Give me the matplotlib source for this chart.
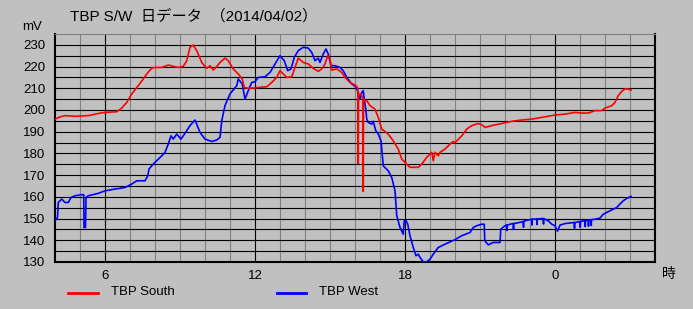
import matplotlib
matplotlib.use("Agg")
import matplotlib.pyplot as plt
from matplotlib.lines import Line2D
import numpy as np

plt.rcParams['font.family'] = ['Liberation Sans', 'Noto Sans CJK JP', 'DejaVu Sans']

# hour of day (24+ = next day) and mV readings
south_h = [4.0, 4.2, 4.4, 4.8, 5.33, 5.73, 6.0, 6.47, 6.67, 6.87, 7.07, 7.33, 7.53, 7.67, 7.87,
           8.0, 8.27, 8.53, 8.73, 8.93, 9.13, 9.27, 9.4, 9.53, 9.67, 9.87, 10.07, 10.2, 10.33,
           10.47, 10.6, 10.8, 10.93, 11.13, 11.33, 11.49, 11.57, 11.73, 12.0, 12.13, 12.47,
           12.67, 12.87, 13.0, 13.13, 13.27, 13.47, 13.6, 13.73, 13.93, 14.13, 14.33, 14.53,
           14.67, 14.8, 14.91, 15.0, 15.07, 15.27, 15.47, 15.6, 15.8, 16.0, 16.1, 16.12, 16.13,
           16.14, 16.16, 16.24, 16.29, 16.32, 16.33, 16.34, 16.37, 16.47, 16.6, 16.8, 16.93,
           17.07, 17.33, 17.53, 17.73, 17.87, 18.0, 18.2, 18.53, 18.67, 18.87, 19.07, 19.13,
           19.2, 19.33, 19.4, 19.6, 19.8, 19.93, 20.0, 20.27, 20.47, 20.67, 20.93, 21.07, 21.2,
           21.47, 21.87, 22.27, 22.67, 23.07, 23.47, 24.0, 24.4, 24.8, 25.07, 25.33, 25.6,
           25.87, 26.0, 26.27, 26.4, 26.53, 26.67, 26.8, 26.91, 27.04]
south_mv = [195.8, 196.8, 197.4, 197.1, 197.4, 198.4, 198.9, 199.2, 200.9, 203.5, 207.4, 211.2,
            214.3, 216.6, 219.3, 219.6, 219.6, 220.7, 220.1, 219.6, 220.1, 222.7, 228.9, 229.9,
            227.3, 221.9, 219.2, 220.4, 218.4, 220.0, 221.9, 223.9, 222.7, 218.9, 216.6, 214.3,
            210.4, 210.0, 210.2, 210.4, 210.7, 212.7, 215.0, 218.1, 216.6, 215.0, 215.3, 219.6,
            223.9, 221.9, 221.2, 219.2, 217.8, 218.9, 221.2, 225.0, 223.5, 218.4, 218.9, 217.3,
            215.0, 212.7, 211.5, 210.4, 208.0, 175.3, 207.5, 206.6, 207.4, 206.0, 205.0, 162.5,
            205.0, 204.3, 204.3, 202.0, 200.4, 196.6, 191.2, 188.9, 185.8, 182.0, 177.4, 175.9,
            173.6, 173.6, 175.1, 178.2, 180.5, 176.6, 180.5, 178.9, 180.5, 182.0, 184.3, 185.5,
            185.0, 188.1, 191.2, 192.8, 193.8, 193.2, 192.0, 192.8, 193.8, 194.8, 195.4, 195.8,
            196.6, 197.7, 198.1, 198.9, 198.6, 198.6, 199.7, 199.7, 200.9, 202.0, 203.5, 206.6,
            208.6, 209.7, 209.7, 209.2]

west_h = [4.0, 4.1, 4.13, 4.27, 4.4, 4.53, 4.64, 4.8, 5.07, 5.15, 5.16, 5.22, 5.24, 5.33, 5.73,
          6.0, 6.4, 6.8, 7.07, 7.27, 7.6, 7.71, 7.76, 7.87, 8.0, 8.27, 8.4, 8.53, 8.64, 8.73,
          8.87, 9.04, 9.27, 9.4, 9.6, 9.8, 10.0, 10.27, 10.47, 10.6, 10.67, 10.8, 11.0, 11.27,
          11.33, 11.49, 11.6, 11.73, 11.87, 12.0, 12.13, 12.4, 12.6, 12.8, 13.0, 13.17, 13.31,
          13.44, 13.57, 13.73, 13.93, 14.13, 14.27, 14.4, 14.53, 14.6, 14.73, 14.84, 14.93,
          15.04, 15.2, 15.4, 15.53, 15.67, 15.87, 16.0, 16.07, 16.13, 16.2, 16.27, 16.33, 16.37,
          16.43, 16.47, 16.53, 16.67, 16.73, 16.83, 16.93, 17.04, 17.13, 17.33, 17.47, 17.6,
          17.67, 17.8, 17.93, 17.97, 18.04, 18.11, 18.2, 18.33, 18.44, 18.53, 18.6, 18.73,
          18.87, 19.0, 19.13, 19.33, 19.6, 20.0, 20.27, 20.6, 20.73, 20.87, 21.07, 21.17, 21.19,
          21.33, 21.53, 21.8, 21.83, 22.0, 22.07, 22.08, 22.09, 22.27, 22.33, 22.34, 22.35,
          22.53, 22.73, 22.74, 22.75, 22.8, 23.07, 23.08, 23.09, 23.27, 23.28, 23.29, 23.47,
          23.53, 23.54, 23.55, 23.73, 23.87, 24.0, 24.1, 24.2, 24.4, 24.77, 24.78, 24.79, 24.8,
          25.0, 25.01, 25.02, 25.2, 25.21, 25.22, 25.33, 25.34, 25.35, 25.44, 25.45, 25.46, 25.6,
          25.8, 25.93, 26.2, 26.47, 26.6, 26.73, 26.87, 27.04]
west_mv = [149.0, 150.5, 157.4, 159.0, 157.4, 157.4, 159.7, 160.5, 161.0, 161.0, 145.9, 145.9,
           159.7, 160.5, 161.6, 162.8, 163.6, 164.3, 165.9, 167.4, 167.4, 169.7, 172.8, 174.3,
           175.9, 178.9, 180.5, 184.3, 188.1, 186.6, 188.9, 186.6, 190.5, 192.8, 195.4, 189.7,
           186.6, 185.5, 186.2, 187.4, 195.1, 202.0, 207.4, 211.2, 214.3, 212.0, 205.0, 208.9,
           212.7, 213.0, 215.0, 215.3, 217.3, 221.2, 225.0, 222.7, 218.1, 218.9, 224.2, 227.3,
           228.9, 228.5, 226.5, 222.7, 223.9, 221.9, 225.8, 228.1, 225.8, 220.4, 220.4, 219.6,
           218.1, 215.0, 212.0, 211.0, 209.7, 208.1, 205.0, 208.1, 208.9, 205.0, 200.4, 195.8,
           194.3, 193.5, 194.8, 190.5, 188.9, 185.8, 174.3, 172.0, 168.9, 162.8, 151.3, 145.9,
           142.8, 149.0, 149.0, 147.4, 142.1, 136.7, 132.9, 133.6, 132.1, 130.1, 130.1, 131.3,
           133.6, 136.7, 138.2, 140.3, 142.1, 143.6, 145.9, 146.7, 147.4, 147.4, 139.8, 137.9,
           139.0, 139.0, 145.1, 146.7, 147.0, 144.5, 147.0, 147.6, 147.7, 145.0, 147.7, 148.1,
           148.6, 146.0, 148.7, 149.0, 149.7, 147.0, 149.7, 149.8, 147.3, 149.8, 150.0, 150.0,
           147.5, 150.0, 149.0, 147.4, 146.7, 144.2, 147.0, 147.7, 148.2, 145.5, 148.2, 148.2,
           148.7, 146.0, 148.7, 149.0, 146.3, 149.0, 149.3, 146.5, 149.3, 149.5, 146.8, 149.5,
           149.7, 150.2, 152.0, 153.6, 155.1, 156.7, 158.2, 159.3, 160.2]

x_ticks = [6, 12, 18, 24]
x_labels = ['6', '12', '18', '0']
y_ticks = list(range(130, 231, 10))

bg = '#c0c0c0'
fig = plt.figure(figsize=(6.93, 3.09), dpi=100, facecolor=bg)
ax = fig.add_axes([55 / 693, 47 / 309, 600 / 693, 228 / 309], facecolor=bg)

ax.plot(west_h, west_mv, color='#0000ff', lw=1.2, zorder=3)
ax.plot(south_h, south_mv, color='#ff0000', lw=1.2, zorder=4)

ax.set_xlim(4, 28)
ax.set_ylim(130, 235)
ax.set_xticks(x_ticks)
ax.set_xticklabels(x_labels)
ax.set_xticks(np.arange(5, 28), minor=True)
ax.set_yticks(y_ticks)
ax.set_yticks(np.arange(135, 235, 10), minor=True)

ax.grid(True, which='major', axis='x', color='black', lw=0.8)
ax.grid(True, which='minor', axis='x', color='#808080', lw=0.8)
ax.grid(True, which='both', axis='y', color='black', lw=0.8)
ax.set_axisbelow(True)

ax.tick_params(which='both', length=0, labelsize=9.5)
ax.tick_params(axis='y', pad=7)
ax.tick_params(axis='x', pad=6)

for side in ['left', 'bottom', 'right']:
    ax.spines[side].set_color('black')
    ax.spines[side].set_linewidth(1.5)
ax.spines['top'].set_color('#808080')
ax.spines['top'].set_linewidth(0.8)

W, H = 693, 309
fig.text(70 / W, 1 - 16 / H, 'TBP S/W  日データ  （2014/04/02）', fontsize=11,
         va='center', ha='left')
fig.text(22 / W, 1 - 27 / H, 'mV', fontsize=9.5, va='center', ha='left')
fig.text(662 / W, 1 - 274 / H, '時', fontsize=10, va='center', ha='left')

# legend drawn by hand below the axes
fig.add_artist(Line2D([68 / W, 98 / W], [1 - 293 / H] * 2, color='#ff0000', lw=2))
fig.text(111 / W, 1 - 292 / H, 'TBP South', fontsize=9.5, va='center', ha='left')
fig.add_artist(Line2D([277 / W, 306 / W], [1 - 293 / H] * 2, color='#0000ff', lw=2))
fig.text(319 / W, 1 - 292 / H, 'TBP West', fontsize=9.5, va='center', ha='left')

fig.savefig('out.png', dpi=100, facecolor=bg)
